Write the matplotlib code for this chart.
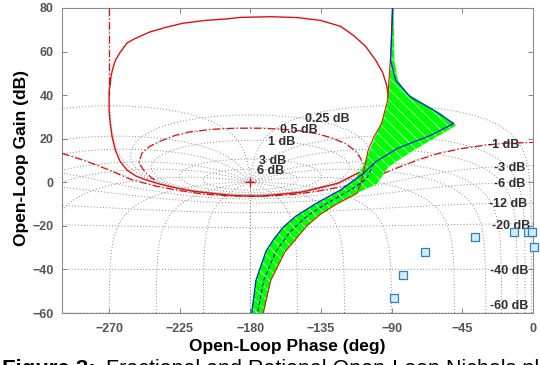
import numpy as np
import matplotlib
matplotlib.use("Agg")
import matplotlib.pyplot as plt
from matplotlib.patches import Polygon

plt.rcParams['font.family'] = ['Liberation Sans', 'DejaVu Sans']
plt.rcParams['hatch.linewidth'] = 0.6

# ---- axes ticks ----
phase_ticks = [-270, -225, -180, -135, -90, -45, 0]
gain_ticks = [-60, -40, -20, 0, 20, 40, 60, 80]

# ---- Nichols grid: closed-loop magnitude (dB) and phase (deg) contours ----
grid_mag_db = [6, 3, 1, 0.5, 0.25, 0, -1, -3, -6, -12, -20, -40, -60]
grid_phase_deg = [-1, -5, -10, -20, -30, -50, -90, -120, -150, -180]

grid_label_text = ["0.25 dB", "0.5 dB", "1 dB", "3 dB", "6 dB",
                   "-1 dB", "-3 dB", "-6 dB", "-12 dB", "-20 dB", "-40 dB", "-60 dB"]
grid_label_phase = [-131, -149, -160, -166, -167,
                    -18.5, -15, -15, -15.7, -14, -15, -15]
grid_label_gain = [28.9, 23.9, 18.3, 10.0, 5.2,
                   17.2, 6.6, -0.6, -10, -20.2, -40.8, -56.9]

# ---- QFT bounds (red) ----
bound_a_phase = [-269.3, -268.7, -267.4, -266, -263, -258.5, -253.4, -244, -234, -223,
                 -208.7, -195, -186.4, -167, -150, -135.3, -122.6, -114.3, -106.6,
                 -100.2, -95.8, -93.2, -91.9, -92, -93, -95, -100, -108, -124.5,
                 -148, -161, -173.6, -189.6, -205.5, -216.4, -226.6, -237.4, -245.7,
                 -252.7, -258.5, -263, -266, -268, -269.3, -270, -270, -269.3]
bound_a_gain = [45, 49.1, 52.8, 56, 59.6, 64, 66, 69, 71.1, 73,
                74.3, 75, 75.7, 76, 75.6, 74.3, 71.6, 67.4, 62.4,
                56, 50.5, 44.5, 37.6, 33, 28, 16, 10, 5.5, -0.5,
                -4.6, -5.5, -6.4, -6.2, -5, -4.1, -2.7, -0.9, 0.9,
                2.8, 5.5, 9.6, 14.7, 20.6, 27, 33, 42.2, 45]

bound_b_phase = [-300, -285, -270, -255, -240, -225, -210, -195, -180, -165, -150,
                 -135, -120, -105, -90, -75, -60, -45, -30, -15, 0]
bound_b_gain = [13.3, 9.8, 5.6, 1.0, -1.8, -3.8, -5.4, -6.2, -6.4, -6.2, -5.4,
                -3.8, -1.8, 1.0, 5.6, 9.8, 13.3, 15.5, 17.1, 18.0, 18.3]

bound_c_phase = [-241, -247, -251, -249, -244, -237, -228, -220, -205, -190, -173,
                 -160, -148, -137, -128, -119, -113, -110, -107.5, -106.5]
bound_c_gain = [1, 4.5, 9, 13.5, 16.5, 19, 21.5, 23, 24.3, 24.8, 24.8,
                24.3, 23.6, 22.2, 20.3, 17.6, 14.2, 11.2, 7.5, 4.5]

bound_d_phase = [-270.3, -270.3]
bound_d_gain = [80, 40]

# ---- open-loop template envelope (green) ----
band_phase = [-89.3, -90, -91.3, -92.6, -95.8, -101.5, -108.5, -113, -123, -138,
              -151, -159, -165, -170, -176.5, -180, -172, -167, -158, -150,
              -144, -135, -125, -112, -99, -95, -92, -86, -76, -65, -54, -49,
              -58.7, -69.6, -80, -86, -88.3, -88.8]
band_gain = [82, 59, 46.8, 36.2, 28.4, 19.3, 6.9, 2, -3.7, -9.6,
             -15.5, -20.5, -26, -31.5, -45, -62, -62, -45, -32, -25.2,
             -20, -14.5, -10, -5, -0.5, 4.1, 7, 10, 14.7, 19.3, 23.9, 26,
             31.7, 36.2, 40.8, 46.8, 56, 82]

# nominal loop (blue)
blue_phase = [-89.2, -90.7, -87.5, -77.9, -65.1, -50.5, -65.1, -86.2, -100, -109,
              -123, -138, -151, -159, -165, -170, -176.5, -179.5]
blue_gain = [82, 56, 46.8, 39, 33.9, 27, 21.6, 15.6, 9.5, 3.5,
             -3.7, -9.6, -15.5, -20.5, -26, -31.5, -45, -62]

# nominal loop centre (blue dashed)
mid_phase = [-176, -171.5, -164, -155, -144, -131, -118, -106, -101.5]
mid_gain = [-62, -45, -32, -23, -15.5, -9.5, -4.3, 1.5, 8.7]

# second extreme loop (red)
red_phase = [-89.5, -90.5, -92.6, -96.5, -101.5, -105, -107, -109, -112,
             -125, -135, -144, -150, -158, -167, -172.5]
red_gain = [82, 60, 37.6, 27, 20.6, 14.7, 8, 1, -5,
            -10, -14.5, -20, -25.2, -32, -45, -62]

# ---- high-frequency points (squares) ----
pts_phase = [-88.5, -83, -69, -37, -12, -3, -0.5, 0.5]
pts_gain = [-53.2, -42.7, -32.1, -25.2, -23, -23, -23, -29.8]

critical_phase = [-180]
critical_gain = [0]


def m_contour(mdb):
    m = 10 ** (mdb / 20.0)
    th = np.linspace(1e-4, 2 * np.pi - 1e-4, 3000)
    t = m * np.exp(-1j * th)
    g = t / (1 - t)
    if m < 1:
        ph = np.degrees(np.unwrap(np.angle(g)))
    else:
        ph = np.mod(np.angle(g, deg=True), 360) - 360
    return ph, 20 * np.log10(np.abs(g))


def n_contour(pdeg):
    m = np.logspace(-4, 4, 4000)
    t = m * np.exp(1j * np.radians(pdeg))
    g = t / (1 - t)
    ph = np.mod(np.angle(g, deg=True), 360) - 360
    return ph, 20 * np.log10(np.abs(g))


fig = plt.figure(figsize=(5.4, 3.65), dpi=100)
ax = fig.add_axes([62 / 540, 52 / 365, 471 / 540, 305 / 365])

grid_kw = dict(color='#8a8a8a', linestyle=(0, (1, 2.2)), linewidth=0.7, zorder=1)
for mdb in grid_mag_db:
    ph, gn = m_contour(mdb)
    ax.plot(ph, gn, **grid_kw)
for p in grid_phase_deg:
    ph, gn = n_contour(p)
    ax.plot(ph, gn, **grid_kw)
    ax.plot(-360 - ph, gn, **grid_kw)

for s, x, y in zip(grid_label_text, grid_label_phase, grid_label_gain):
    ax.text(x, y, s, ha='center', va='center', fontsize=9, fontweight='bold',
            color='#303030', zorder=6)

# bounds
dashdot = (0, (6, 2, 1, 2))
ax.plot(bound_a_phase, bound_a_gain, color='#e01010', lw=1.0, zorder=3)
ax.plot(bound_b_phase, bound_b_gain, color='#e01010', lw=0.9, linestyle=dashdot, zorder=3)
ax.plot(bound_c_phase, bound_c_gain, color='#e01010', lw=0.9, linestyle=dashdot, zorder=3)
ax.plot(bound_d_phase, bound_d_gain, color='#e01010', lw=0.9, linestyle=dashdot, zorder=3)

# template envelope
verts = np.column_stack([band_phase, band_gain])
ax.add_patch(Polygon(verts, closed=True, facecolor='#00ff00', edgecolor='none', zorder=4))
ax.add_patch(Polygon(verts, closed=True, facecolor='none', edgecolor='#c4ffc4',
                     linewidth=0, hatch='\\\\\\', zorder=4))

ax.plot(red_phase, red_gain, color='#d02000', lw=0.8, zorder=5)
ax.plot(blue_phase, blue_gain, color='#1020e0', lw=0.9, zorder=5)
ax.plot(mid_phase, mid_gain, color='#1020c0', lw=0.9, linestyle=(0, (3, 2)), zorder=5)

ax.plot(pts_phase, pts_gain, linestyle='none', marker='s', markersize=5.5,
        markerfacecolor='#d4ecfa', markeredgecolor='#2f7fb8', markeredgewidth=0.9,
        clip_on=False, zorder=7)
ax.plot(critical_phase, critical_gain, linestyle='none', marker='+', markersize=7,
        color='#e01010', markeredgewidth=0.9, zorder=6)

ax.set_xlim(-300, 0)
ax.set_ylim(-60, 80)
ax.set_xticks(phase_ticks)
ax.set_yticks(gain_ticks)
ax.tick_params(direction='in', length=3.5, width=0.6, color='#707070',
               top=True, right=True, labelsize=9, labelcolor='#555555')
ax.tick_params(axis='x', pad=7)
ax.tick_params(axis='y', pad=6)
for lab in ax.get_xticklabels() + ax.get_yticklabels():
    lab.set_fontweight('bold')
for sp in ax.spines.values():
    sp.set_color('#8c8c8c')
    sp.set_linewidth(0.8)

fig.text(22 / 540, 1 - 158 / 365, 'Open-Loop Gain (dB)', rotation=90, ha='center',
         va='center', fontsize=12.5, fontweight='bold', color='black')
fig.text(287 / 540, 1 - 346 / 365, 'Open-Loop Phase (deg)', ha='center', va='center',
         fontsize=12.5, fontweight='bold', color='black')

fig.text(2 / 540, 1 - 359 / 365, 'Figure 3:', ha='left', va='top', fontsize=16,
         fontweight='bold', color='black')
fig.text(106 / 540, 1 - 359 / 365, 'Fractional and Rational Open-Loop Nichols plots',
         ha='left', va='top', fontsize=15.5, color='black')

fig.savefig('out.png', dpi=100)
